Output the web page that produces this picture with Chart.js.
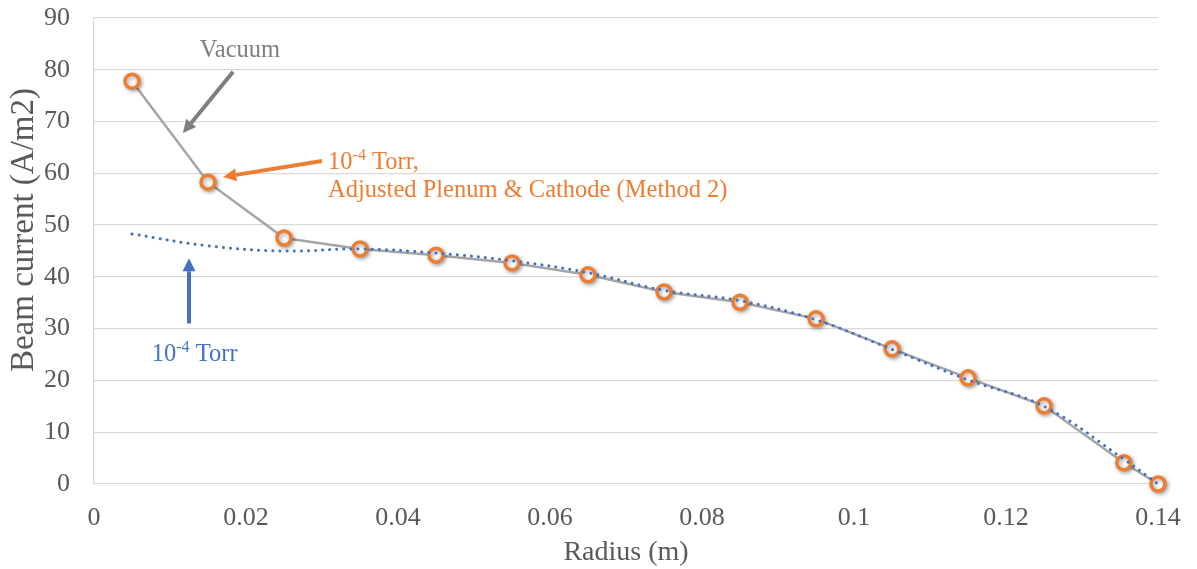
<!DOCTYPE html>
<html>
<head>
<meta charset="utf-8">
<script src="https://cdn.jsdelivr.net/npm/chart.js@4.4.1/dist/chart.umd.min.js"></script>
<style>
  html, body { margin:0; padding:0; background:#fff; }
  #wrap { width:1197px; height:569px; position:relative; }
</style>
</head>
<body>
<div id="wrap"><canvas id="chart" width="1197" height="569"></canvas></div>
<script>
// data
const radius = [0.005, 0.015, 0.025, 0.035, 0.045, 0.055, 0.065, 0.075, 0.085, 0.095, 0.105, 0.115, 0.125, 0.1355, 0.14];
const vacuum = [77.8, 58.3, 47.5, 45.4, 44.2, 42.7, 40.4, 37.1, 35.1, 31.9, 26.1, 20.5, 15.1, 4.1, 0];
const adjusted = [77.8, 58.3, 47.5, 45.4, 44.2, 42.7, 40.4, 37.1, 35.1, 31.9, 26.1, 20.5, 15.1, 4.1, 0];
const torr = [48.3, 46.0, 45.0, 45.4, 44.6, 43.1, 40.8, 37.4, 35.4, 31.7, 26.0, 20.1, 15.0, 4.8, 0];

const xTicks = [0, 0.02, 0.04, 0.06, 0.08, 0.1, 0.12, 0.14];
const yTicks = [0, 10, 20, 30, 40, 50, 60, 70, 80, 90];

const xTitle = "Radius (m)";
const yTitle = "Beam current (A/m2)";

const FONT = "'Liberation Serif', 'Times New Roman', serif";
const GRAY = "#A5A5A5";
const ORANGE = "#ED7D31";
const BLUE = "#4472C4";
const TEXT = "#595959";

function pts(ys){
    return radius.map((r,i)=>({x:r, y:ys[i]}));
}

// annotations in data coordinates
const notes = [
    {type:"arrow", color:"#7F7F7F", from:[0.0183, 79.6], to:[0.0117, 67.8]},
    {type:"arrow", color:ORANGE, from:[0.0300, 62.4], to:[0.0170, 59.3]},
    {type:"arrow", color:BLUE, from:[0.0125, 31.0], to:[0.0125, 43.6]},
    {type:"text", color:"#7F7F7F", at:[0.0192, 83.7], align:"center", parts:[["Vacuum"]]},
    {type:"text", color:ORANGE, at:[0.0308, 62.1], align:"left", parts:[["10"],["-4",true],[" Torr,"]]},
    {type:"text", color:ORANGE, at:[0.0308, 56.6], align:"left", parts:[["Adjusted Plenum & Cathode (Method 2)"]]},
    {type:"text", color:BLUE, at:[0.0076, 25.0], align:"left", parts:[["10"],["-4",true],[" Torr"]]}
];

const NOTE_SIZE = 24.5;
const SUP_SIZE = 16;

const notePlugin = {
    id:"notes",
    afterDatasetsDraw(chart){
        const ctx = chart.ctx;
        const xs = chart.scales.x;
        const ys = chart.scales.y;
        ctx.save();
        notes.forEach(n=>{
            if(n.type === "arrow"){
                const x1 = xs.getPixelForValue(n.from[0]);
                const y1 = ys.getPixelForValue(n.from[1]);
                const x2 = xs.getPixelForValue(n.to[0]);
                const y2 = ys.getPixelForValue(n.to[1]);
                const a = Math.atan2(y2-y1, x2-x1);
                const head = 13;
                const bx = x2 - Math.cos(a)*head;
                const by = y2 - Math.sin(a)*head;
                ctx.strokeStyle = n.color;
                ctx.fillStyle = n.color;
                ctx.lineWidth = 4;
                ctx.beginPath();
                ctx.moveTo(x1, y1);
                ctx.lineTo(bx, by);
                ctx.stroke();
                ctx.beginPath();
                ctx.moveTo(x2, y2);
                ctx.lineTo(bx + Math.cos(a+Math.PI/2)*6.5, by + Math.sin(a+Math.PI/2)*6.5);
                ctx.lineTo(bx + Math.cos(a-Math.PI/2)*6.5, by + Math.sin(a-Math.PI/2)*6.5);
                ctx.closePath();
                ctx.fill();
            } else {
                let x = xs.getPixelForValue(n.at[0]);
                const y = ys.getPixelForValue(n.at[1]);
                ctx.fillStyle = n.color;
                ctx.textBaseline = "middle";
                ctx.textAlign = "left";
                let total = 0;
                n.parts.forEach(p=>{
                    ctx.font = (p[1] ? SUP_SIZE : NOTE_SIZE) + "px " + FONT;
                    total += ctx.measureText(p[0]).width;
                });
                if(n.align === "center") x -= total/2;
                n.parts.forEach(p=>{
                    ctx.font = (p[1] ? SUP_SIZE : NOTE_SIZE) + "px " + FONT;
                    ctx.fillText(p[0], x, p[1] ? y-7 : y);
                    x += ctx.measureText(p[0]).width;
                });
            }
        });

        // y axis title, sits a little above the plot centre
        const area = chart.chartArea;
        ctx.translate(24, area.top + (area.bottom - area.top) * 0.455);
        ctx.rotate(-Math.PI/2);
        ctx.font = "33px " + FONT;
        ctx.fillStyle = TEXT;
        ctx.textAlign = "center";
        ctx.textBaseline = "middle";
        ctx.fillText(yTitle, 0, 0);
        ctx.restore();
    }
};

const shadowPlugin = {
    id:"markerShadow",
    beforeDatasetDraw(chart, args){
        if(args.index === 1){
            const ctx = chart.ctx;
            ctx.save();
            ctx.shadowColor = "rgba(0,0,0,0.35)";
            ctx.shadowBlur = 4;
            ctx.shadowOffsetX = 1.5;
            ctx.shadowOffsetY = 1.5;
        }
    },
    afterDatasetDraw(chart, args){
        if(args.index === 1){
            chart.ctx.restore();
        }
    }
};

new Chart(document.getElementById("chart"), {
    type:"line",
    data:{
        datasets:[
            {
                label:"Vacuum",
                data:pts(vacuum),
                borderColor:GRAY,
                borderWidth:2.5,
                pointRadius:0,
                tension:0,
                clip:false,
                order:3
            },
            {
                label:"10-4 Torr, Adjusted Plenum & Cathode (Method 2)",
                data:pts(adjusted),
                showLine:false,
                pointStyle:"circle",
                pointRadius:7,
                pointBorderWidth:3.5,
                pointBorderColor:ORANGE,
                pointBackgroundColor:"#fff",
                clip:false,
                order:2
            },
            {
                label:"10-4 Torr",
                data:pts(torr),
                borderColor:BLUE,
                borderWidth:3,
                borderDash:[0.1, 7],
                borderCapStyle:"round",
                pointRadius:0,
                tension:0.4,
                clip:false,
                order:1
            }
        ]
    },
    options:{
        responsive:false,
        animation:false,
        layout:{padding:{left:0, right:39, top:18, bottom:0}},
        plugins:{
            legend:{display:false},
            tooltip:{enabled:false}
        },
        scales:{
            x:{
                type:"linear",
                min:0,
                max:0.14,
                afterBuildTicks(scale){
                    scale.ticks = xTicks.map(v=>({value:v}));
                },
                ticks:{
                    color:TEXT,
                    font:{family:FONT, size:26},
                    padding:11,
                    maxRotation:0,
                    callback:v=>String(Math.round(v*100)/100)
                },
                grid:{display:false},
                border:{display:false},
                title:{
                    display:true,
                    text:xTitle,
                    color:TEXT,
                    font:{family:FONT, size:28},
                    padding:{top:0, bottom:0}
                },
                afterFit(scale){ scale.height = 85; }
            },
            y:{
                min:0,
                max:90,
                afterBuildTicks(scale){
                    scale.ticks = yTicks.map(v=>({value:v}));
                },
                ticks:{
                    color:TEXT,
                    font:{family:FONT, size:26},
                    padding:24
                },
                grid:{color:"#D9D9D9", lineWidth:1.3, drawTicks:false},
                border:{display:true, color:"#D9D9D9", width:1.3},
                title:{display:false},
                afterFit(scale){
                    scale.width = 94;
                    scale.paddingTop = 0;
                    scale.paddingBottom = 0;
                }
            }
        }
    },
    plugins:[shadowPlugin, notePlugin]
});
</script>
</body>
</html>
